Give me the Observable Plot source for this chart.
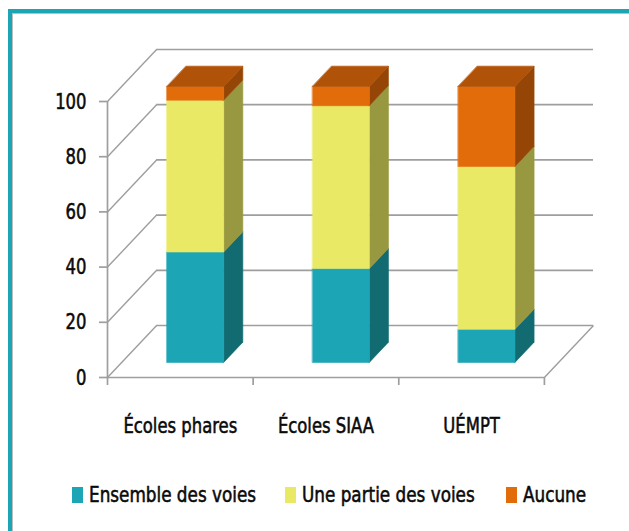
<!DOCTYPE html>
<html>
<head>
<meta charset="utf-8">
<script src="https://cdn.jsdelivr.net/npm/d3@7"></script>
<script src="https://cdn.jsdelivr.net/npm/@observablehq/plot@0.6"></script>
<style>
  html, body { margin: 0; padding: 0; background: #fff; width: 629px; height: 531px; overflow: hidden; }
  body { position: relative; font-family: "DejaVu Sans Condensed", "DejaVu Sans", sans-serif; font-stretch: condensed; color: #0a0a0a; }
  #frame { position: absolute; left: 8px; top: 9px; width: 700px; height: 600px;
           border-top: 4px solid #1ba5b5; border-left: 4px solid #1ba5b5;
           box-shadow: inset 1px 1px 0 #bdbdbd; }
  #chart { position: absolute; left: 0; top: 0; }
  #chart svg text { font-stretch: condensed; stroke: #0a0a0a; stroke-width: 0.55px; }
  #legend { position: absolute; left: 0; top: 0; width: 629px; }
  .sw { position: absolute; top: 487px; width: 11px; height: 16px; }
  .lt { position: absolute; top: 484px; height: 22px; line-height: 22px; font-size: 22px; white-space: nowrap;
        -webkit-text-stroke: 0.55px #0a0a0a;
        transform: scaleX(0.85); transform-origin: 0 50%; }
</style>
</head>
<body>
<div id="frame"></div>
<div id="chart"></div>
<div id="legend"></div>
<script>
// ---- data ----
const categories = ["Écoles phares", "Écoles SIAA", "UÉMPT"];
const seriesNames = ["Ensemble des voies", "Une partie des voies", "Aucune"];
const ensemble = [40, 34, 12];
const partie = [55, 59, 59];
const aucune = [5, 7, 29];
const yTicks = [0, 20, 40, 60, 80, 100];

// ---- styles ----
const frontColors = ["#1ba5b5", "#e9e966", "#e36c0a"];
const sideColors = ["#136b72", "#989840", "#954606"];
const topColor = "#b05207";
const gridColor = "#9e9e9e";
const textColor = "#0a0a0a";
const fontFamily = '"DejaVu Sans Condensed", "DejaVu Sans", sans-serif';
const textSqueeze = 0.83;

// ---- 3D projection parameters (in data units) ----
const bandPx = 145.33, yPx = 2.76;
const Dx = 49 / bandPx;      // depth vector, x part (category units)
const Dy = 52 / yPx;         // depth vector, y part (value units)
const barLo = 0.31, barHi = 0.70;  // bar extent within band
const d0 = 0.29, d1 = 0.68;        // bar extent in depth

const values = [ensemble, partie, aucune];
const polys = [];
categories.forEach((c, i) => {
  let acc = 0;
  values.forEach((arr, s) => {
    const lo = acc, hi = acc + arr[i];
    acc = hi;
    const xa = i + barLo, xb = i + barHi;
    polys.push(...[
      [xb + d0 * Dx, lo + d0 * Dy], [xb + d1 * Dx, lo + d1 * Dy],
      [xb + d1 * Dx, hi + d1 * Dy], [xb + d0 * Dx, hi + d0 * Dy]
    ].map(([x, y]) => ({id: `s${i}-${s}`, x, y, c: sideColors[s]})));
    polys.push(...[
      [xa + d0 * Dx, lo + d0 * Dy], [xb + d0 * Dx, lo + d0 * Dy],
      [xb + d0 * Dx, hi + d0 * Dy], [xa + d0 * Dx, hi + d0 * Dy]
    ].map(([x, y]) => ({id: `f${i}-${s}`, x, y, c: frontColors[s]})));
    if (s === values.length - 1) {
      polys.push(...[
        [xa + d0 * Dx, hi + d0 * Dy], [xb + d0 * Dx, hi + d0 * Dy],
        [xb + d1 * Dx, hi + d1 * Dy], [xa + d1 * Dx, hi + d1 * Dy]
      ].map(([x, y]) => ({id: `t${i}`, x, y, c: topColor})));
    }
  });
});

const nCat = categories.length;
const chart = Plot.plot({
  width: 629,
  height: 460,
  marginLeft: 107,
  marginRight: 36,
  marginTop: 49,
  marginBottom: 83,
  style: {background: "transparent", fontFamily, color: textColor, overflow: "visible"},
  x: {domain: [0, nCat + Dx], axis: null},
  y: {domain: [0, 100 + Dy], axis: null},
  color: {type: "identity"},
  marks: [
    Plot.ruleY(yTicks, {y: d => d + Dy, x1: Dx, x2: nCat + Dx, stroke: gridColor, strokeWidth: 1.7}),
    Plot.link(yTicks, {x1: 0, y1: d => d, x2: Dx, y2: d => d + Dy, stroke: gridColor, strokeWidth: 1.4}),
    Plot.link([0], {x1: nCat, y1: 0, x2: nCat + Dx, y2: Dy, stroke: gridColor, strokeWidth: 1.4}),
    Plot.ruleY([0], {x1: 0, x2: nCat, stroke: gridColor, strokeWidth: 1.7}),
    Plot.ruleX([0], {y1: 0, y2: 100, stroke: gridColor, strokeWidth: 1.7}),
    Plot.axisY({ticks: yTicks, label: null, tickSize: 8, tickPadding: 13, fontSize: 22, stroke: gridColor, strokeWidth: 1.7, fill: textColor, tickFormat: d => String(d)}),
    Plot.axisX({ticks: d3.range(nCat + 1), label: null, tickSize: 8, tickFormat: () => "", stroke: gridColor, strokeWidth: 1.7}),
    Plot.text(categories, {x: (d, i) => i + 0.5, y: () => 0, text: d => d, dy: 48, fontSize: 22, fill: textColor}),
    Plot.line(polys, {x: "x", y: "y", z: "id", fill: "c", stroke: "c", strokeWidth: 0.6, curve: "linear-closed"})
  ]
});
document.getElementById("chart").appendChild(chart);

// squeeze text horizontally around its own anchor (narrow, tall glyphs as in the original)
d3.select(chart).selectAll("text").each(function() {
  const x = +this.getAttribute("x") || 0, y = +this.getAttribute("y") || 0;
  const tr = this.getAttribute("transform") || "";
  this.setAttribute("transform", `${tr} translate(${x},${y}) scale(${textSqueeze},1) translate(${-x},${-y})`);
});

const legendX = [72, 285, 506];
const legend = document.getElementById("legend");
seriesNames.forEach((name, s) => {
  const sw = document.createElement("div");
  sw.className = "sw";
  sw.style.left = legendX[s] + "px";
  sw.style.background = frontColors[s];
  legend.appendChild(sw);
  const lt = document.createElement("div");
  lt.className = "lt";
  lt.style.left = (legendX[s] + 17) + "px";
  lt.textContent = name;
  legend.appendChild(lt);
});
</script>
</body>
</html>
